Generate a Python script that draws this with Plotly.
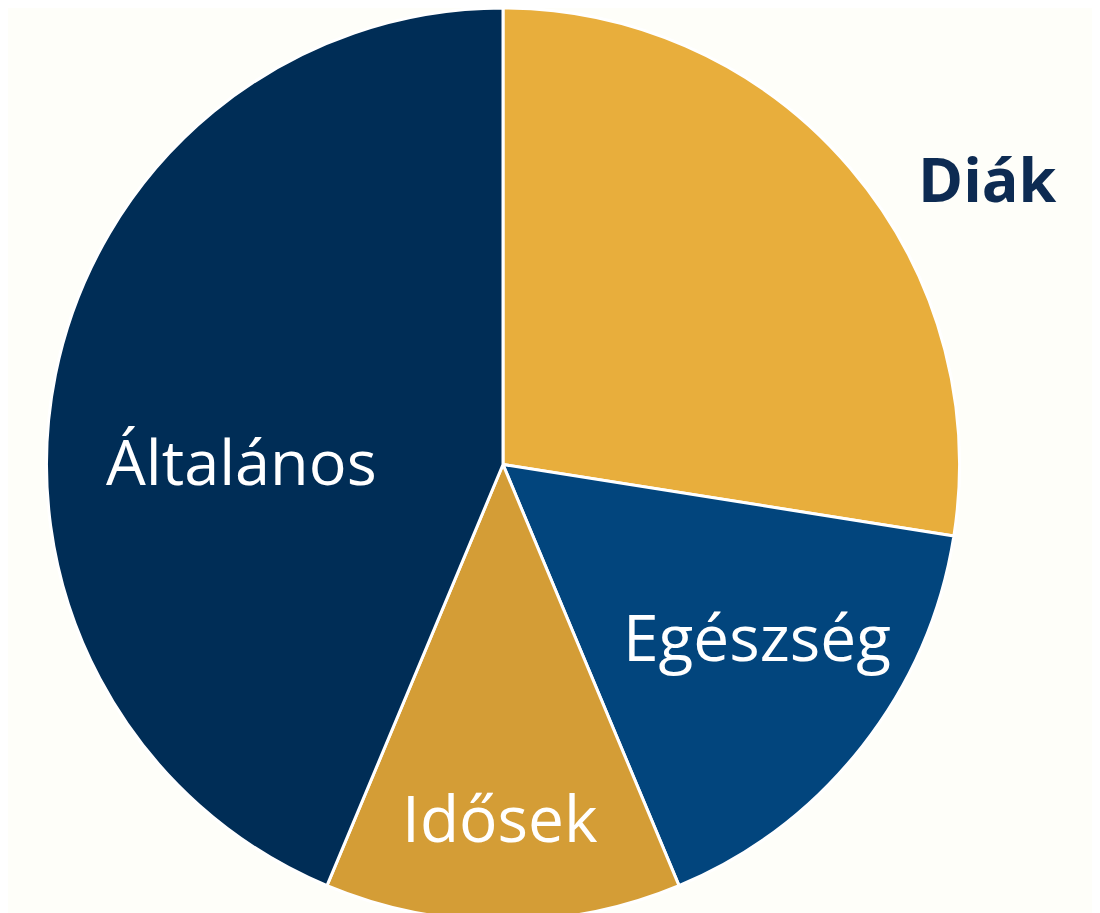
import plotly.graph_objects as go

labels = ["Diák", "Egészség", "Idősek", "Általános"]
values = [27.5, 16.2, 12.6, 43.7]
colors = ["#E8AE3C", "#02457D", "#D49D36", "#002D56"]

W, H = 1100, 913
fig = go.Figure(go.Pie(
    labels=labels,
    values=values,
    sort=False,
    direction="clockwise",
    rotation=0,
    marker=dict(colors=colors, line=dict(color="#FFFFFF", width=3)),
    textinfo="none",
    hoverinfo="label+percent",
    showlegend=False,
    domain=dict(x=[0.035, 0.865], y=[0.0, 1.0]),
))

label_font = "Open Sans"
ann = [
    dict(text="Általános", x=0.2126, y=0.504, color="#FFFFFF", size=63, bold=False),
    dict(text="Egészség", x=0.6807, y=0.312, color="#FFFFFF", size=64, bold=False),
    dict(text="Idősek", x=0.4473, y=0.113, color="#FFFFFF", size=64, bold=False),
    dict(text="Diák", x=0.8907, y=0.813, color="#0D2B52", size=61, bold=True),
]
for a in ann:
    fig.add_annotation(
        text=("<b>%s</b>" % a["text"]) if a["bold"] else a["text"],
        x=a["x"], y=a["y"], xref="paper", yref="paper",
        xanchor="center", yanchor="middle", showarrow=False,
        font=dict(family=label_font, size=a["size"], color=a["color"]),
    )

fig.update_layout(
    width=W, height=H,
    margin=dict(l=0, r=0, t=0, b=0),
    paper_bgcolor="#FEFEF9",
    plot_bgcolor="#FEFEF9",
)
fig.write_html("out.html")
